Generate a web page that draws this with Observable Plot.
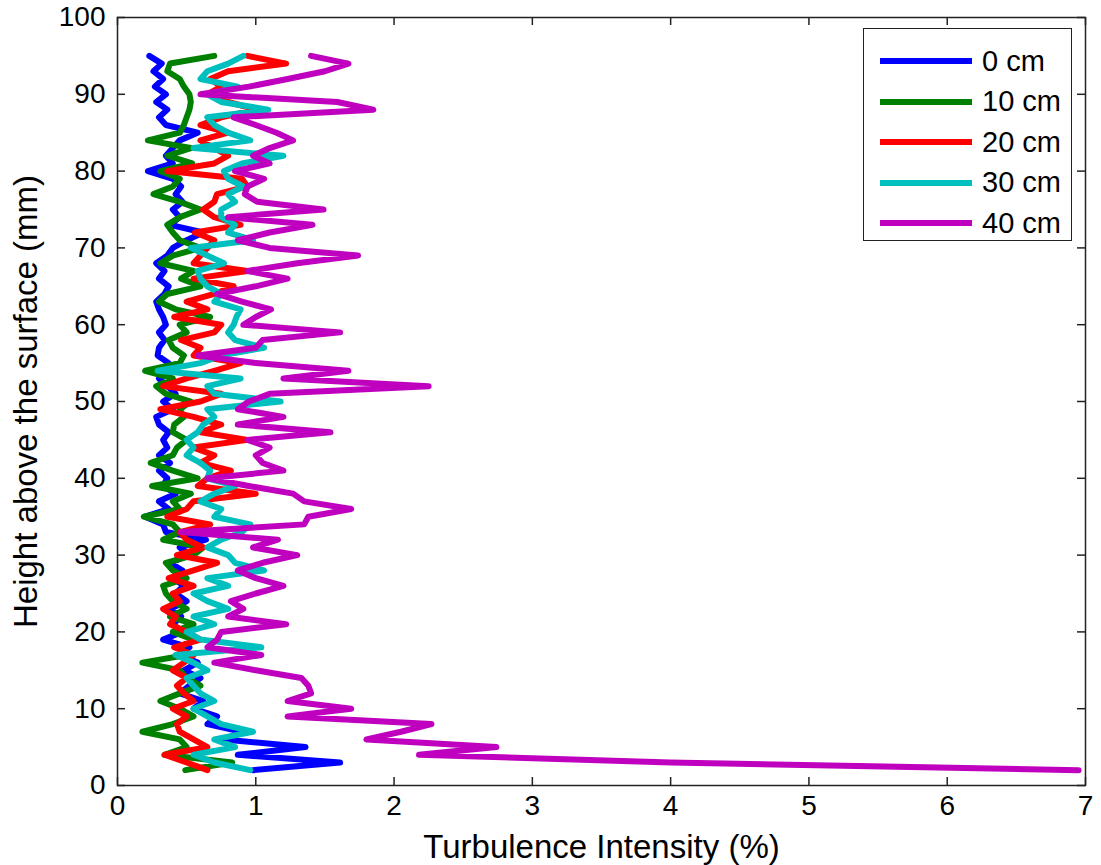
<!DOCTYPE html>
<html><head><meta charset="utf-8">
<script src="https://cdn.jsdelivr.net/npm/d3@7"></script>
<script src="https://cdn.jsdelivr.net/npm/@observablehq/plot@0.6"></script>
<style>
body{margin:0;background:#fff;font-family:"Liberation Sans",Arial,sans-serif;}
#wrap{position:relative;width:1101px;height:865px;}
#legend{position:absolute;left:863px;top:28px;width:209px;height:213px;border:1.5px solid #222;background:#fff;box-sizing:border-box;}
.item{position:absolute;left:0;height:40px;display:flex;align-items:center;}
.sw{display:inline-block;width:92px;height:6px;margin-left:16px;margin-right:10px;}
.lab{font-size:29px;color:#000;line-height:1;}
g[aria-label="x-axis label"] text, g[aria-label="y-axis label"] text{font-size:33px;}
</style>
</head><body>
<div id="wrap"></div>
<script>
const series = ["0 cm", "10 cm", "20 cm", "30 cm", "40 cm"];
const colors = ["#0000ff", "#008000", "#ff0000", "#00bfbf", "#bf00bf"];
const heights = d3.range(2, 96); // mm, 2..95
const xTicks = [0, 1, 2, 3, 4, 5, 6, 7];
const yTicks = [0, 10, 20, 30, 40, 50, 60, 70, 80, 90, 100];

const ti0 = [0.98,1.61,0.87,1.36,0.77,0.90,0.65,0.72,0.55,0.62,
 0.45,0.52,0.60,0.48,0.58,0.45,0.52,0.33,0.47,0.40,
 0.46,0.38,0.50,0.42,0.48,0.40,0.47,0.38,0.52,0.45,
 0.64,0.35,0.33,0.20,0.37,0.30,0.42,0.33,0.36,0.30,
 0.38,0.30,0.36,0.33,0.37,0.30,0.28,0.40,0.33,0.42,
 0.36,0.30,0.38,0.37,0.29,0.30,0.34,0.30,0.35,0.33,
 0.30,0.28,0.34,0.37,0.30,0.34,0.28,0.36,0.40,0.50,
 0.62,0.38,0.45,0.40,0.47,0.42,0.46,0.40,0.22,0.40,
 0.35,0.40,0.45,0.58,0.35,0.30,0.36,0.28,0.35,0.27,
 0.33,0.26,0.32,0.23];
const ti10 = [0.49,0.83,0.34,0.50,0.45,0.18,0.40,0.55,0.45,0.31,
 0.45,0.60,0.50,0.45,0.18,0.50,0.45,0.55,0.40,0.55,
 0.38,0.50,0.40,0.35,0.33,0.50,0.40,0.35,0.55,0.62,
 0.33,0.45,0.40,0.19,0.45,0.40,0.53,0.25,0.58,0.40,
 0.24,0.40,0.43,0.50,0.40,0.41,0.48,0.45,0.53,0.35,
 0.28,0.40,0.20,0.45,0.48,0.40,0.37,0.50,0.45,0.67,
 0.42,0.30,0.36,0.60,0.46,0.55,0.31,0.40,0.60,0.45,
 0.40,0.36,0.45,0.60,0.45,0.26,0.40,0.45,0.31,0.54,
 0.36,0.53,0.22,0.45,0.48,0.50,0.52,0.53,0.52,0.48,
 0.45,0.36,0.38,0.70];
const ti20 = [0.65,0.50,0.34,0.65,0.55,0.45,0.43,0.50,0.40,0.55,
 0.48,0.43,0.50,0.40,0.48,0.55,0.41,0.60,0.50,0.38,
 0.42,0.33,0.45,0.40,0.55,0.37,0.55,0.72,0.43,0.62,
 0.50,0.45,0.67,0.36,0.50,0.55,1.00,0.58,0.65,0.82,
 0.60,0.70,0.55,0.94,0.60,0.75,0.55,0.31,0.60,0.75,
 0.33,0.50,0.70,0.89,0.55,0.60,0.46,0.70,0.75,0.41,
 0.65,0.50,0.70,0.84,0.55,0.94,0.55,0.60,0.65,0.70,
 0.56,0.89,0.70,0.62,0.70,0.72,0.94,0.90,0.36,0.70,
 0.80,0.70,0.60,0.80,0.60,0.75,1.01,0.80,0.65,0.75,
 0.67,0.80,1.22,0.94];
const ti30 = [0.96,0.70,0.55,0.85,0.70,0.98,0.75,0.65,0.55,0.70,
 0.60,0.55,0.50,0.65,0.55,0.42,1.04,0.60,0.50,0.70,
 0.55,0.80,0.65,0.55,0.80,0.65,1.06,0.85,0.80,0.65,
 0.75,0.90,0.96,0.70,0.75,0.60,0.70,0.85,0.65,0.67,
 0.60,0.50,0.55,0.50,0.58,0.62,0.70,0.65,1.18,0.70,
 0.65,0.89,0.29,0.60,0.75,1.06,0.85,0.80,0.84,0.86,
 0.89,0.70,0.75,0.65,0.60,0.58,0.77,0.65,0.53,0.98,
 0.80,0.85,0.75,0.75,0.85,0.80,0.91,0.80,0.77,0.90,
 1.20,0.55,0.96,0.80,0.70,0.65,1.09,0.75,0.65,0.87,
 0.60,0.65,0.80,0.91];
const ti40 = [6.95,4.00,2.18,2.74,1.80,2.05,2.27,1.23,1.69,1.23,
 1.40,1.38,1.33,1.00,0.70,1.04,0.65,0.72,0.75,1.22,
 0.80,0.91,0.82,1.00,1.20,1.00,0.87,1.05,1.30,0.98,
 1.16,0.46,1.35,1.38,1.69,1.35,1.27,0.95,0.65,1.20,
 1.05,1.00,1.10,0.94,1.54,0.87,1.20,0.87,0.95,1.10,
 2.25,1.20,1.67,1.00,0.58,1.00,1.05,1.61,0.91,1.00,
 1.11,0.90,0.72,1.00,1.23,0.94,1.30,1.74,1.10,0.87,
 1.10,1.41,0.80,1.49,1.01,0.92,0.94,1.06,0.85,1.10,
 0.98,1.10,1.27,1.15,1.00,0.84,1.85,1.59,0.60,0.95,
 1.23,1.50,1.67,1.40];

const values = [ti0, ti10, ti20, ti30, ti40];
const rows = series.flatMap((s, i) => heights.map((h, j) => ({series: s, h, v: values[i][j]})));

const W = 1101, H = 865, mL = 117, mR = 16, mT = 17, mB = 80;
const pw = W - mL - mR, ph = H - mT - mB, tl = 8;

const chart = Plot.plot({
  width: W, height: H,
  marginLeft: mL, marginRight: mR, marginTop: mT, marginBottom: mB,
  style: {fontFamily: "'Liberation Sans', Arial, sans-serif", fontSize: "27px", background: "#fff", color: "#000", overflow: "visible"},
  x: {domain: [0, 7]},
  y: {domain: [0, 100]},
  color: {domain: series, range: colors},
  marks: [
    Plot.line(rows, {x: "v", y: "h", z: "series", stroke: "series", strokeWidth: 6, strokeLinejoin: "round", strokeLinecap: "round"}),
    Plot.frame({stroke: "#222", strokeWidth: 1.5}),
    Plot.tickX(xTicks, {x: d => d, insetTop: ph - tl, stroke: "#222", strokeWidth: 1.5}),
    Plot.tickX(xTicks, {x: d => d, insetBottom: ph - tl, stroke: "#222", strokeWidth: 1.5}),
    Plot.tickY(yTicks, {y: d => d, insetRight: pw - tl, stroke: "#222", strokeWidth: 1.5}),
    Plot.tickY(yTicks, {y: d => d, insetLeft: pw - tl, stroke: "#222", strokeWidth: 1.5}),
    Plot.axisX(xTicks, {tickSize: 0, tickPadding: 10, fontSize: 28, tickFormat: d => String(d), label: "Turbulence Intensity (%)", labelAnchor: "center", labelOffset: 72, labelArrow: "none"}),
    Plot.axisY(yTicks, {tickSize: 0, tickPadding: 12, fontSize: 28, tickFormat: d => String(d), label: "Height above the surface (mm)", labelAnchor: "center", labelOffset: 104, labelArrow: "none"})
  ]
});
const wrap = document.getElementById("wrap");
wrap.appendChild(chart);

const leg = document.createElement("div");
leg.id = "legend";
series.forEach((s, i) => {
  const it = document.createElement("div");
  it.className = "item";
  it.style.top = (12 + i * 40.5) + "px";
  it.innerHTML = `<span class="sw" style="background:${colors[i]}"></span><span class="lab">${s}</span>`;
  leg.appendChild(it);
});
wrap.appendChild(leg);
</script>
</body></html>
